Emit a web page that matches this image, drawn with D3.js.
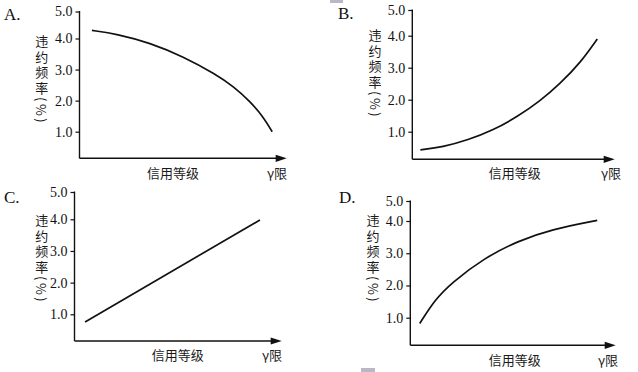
<!DOCTYPE html>
<html>
<head>
<meta charset="utf-8">
<script src="https://cdn.jsdelivr.net/npm/d3@7"></script>
<style>
  body { margin: 0; background: #fff; }
  svg { display: block; }
</style>
</head>
<body>
<div id="chart"></div>
<script>
// ===== data (grade: 0..10 along x, rate: %) =====
const yTickValues = [1, 2, 3, 4, 5];
const yTickLabels = ["1.0", "2.0", "3.0", "4.0", "5.0"];
const panelNames = ["A.", "B.", "C.", "D."];
const yTitle = "违约频率(%)";
const xTitle = "信用等级";
const xEnd = "γ限";

const gradeA = [0.6, 1.8, 3.4, 5.0, 6.6, 7.42, 8.24, 8.89, 9.3];
const rateA  = [4.30, 4.17, 3.86, 3.42, 2.84, 2.46, 1.97, 1.46, 1.0];

const gradeB = [0.4, 1.5, 2.75, 4.0, 5.2, 6.3, 7.3, 8.3, 9.14];
const rateB  = [0.43, 0.52, 0.74, 1.05, 1.47, 1.95, 2.5, 3.15, 3.9];

const gradeC = [0.51, 8.95];
const rateC  = [0.76, 3.98];

const gradeD = [0.46, 1.19, 2.0, 3.62, 5.24, 6.86, 9.1];
const rateD  = [0.82, 1.55, 2.08, 2.86, 3.38, 3.74, 4.03];

// ===== layout of each small plot (scanned figure, axes not quite regular) =====
const panels = [
  {name: panelNames[0], grade: gradeA, rate: rateA, axisX: 79.5, tip: 286.7, baseY: 158.3,
   y1: 131.7, y4: 38.5, y5: 11.5, letter: [4, 20], yTitleX: 41.7, yTitleTop: 35, xTitleX: 173, xTitleY: 172, endX: 277},
  {name: panelNames[1], grade: gradeB, rate: rateB, axisX: 412.3, tip: 614.7, baseY: 159.3,
   y1: 131.7, y4: 35.7, y5: 10, letter: [338, 19], yTitleX: 375, yTitleTop: 29, xTitleX: 514.7, xTitleY: 172.7, endX: 611},
  {name: panelNames[2], grade: gradeC, rate: rateC, axisX: 74.5, tip: 281.7, baseY: 341,
   y1: 314.3, y4: 219.3, y5: 192, letter: [4, 203], yTitleX: 41.7, yTitleTop: 214, xTitleX: 177.7, xTitleY: 354.3, endX: 272},
  {name: panelNames[3], grade: gradeD, rate: rateD, axisX: 410.3, tip: 615.7, baseY: 345.3,
   y1: 317.7, y4: 221, y5: 201, letter: [339, 203], yTitleX: 373, yTitleTop: 214, xTitleX: 514.7, xTitleY: 359.3, endX: 608}
];

const W = 638, H = 372;
const serif = "'Liberation Serif', 'DejaVu Serif', serif";
const cjk = "'Noto Sans CJK SC', sans-serif";

const svg = d3.select("#chart").append("svg")
  .attr("width", W).attr("height", H)
  .attr("viewBox", "0 0 " + W + " " + H);

svg.append("rect").attr("width", W).attr("height", H).attr("fill", "#fff");

// scan marks
svg.append("rect").attr("x", 330).attr("y", 0).attr("width", 13).attr("height", 3).attr("fill", "#b9b9c6");
svg.append("rect").attr("x", 361).attr("y", 368).attr("width", 14).attr("height", 4).attr("fill", "#b9b9c6");

for (const p of panels) {
  const g = svg.append("g");

  const x = d3.scaleLinear().domain([0, 10]).range([p.axisX, p.tip]);
  const y = d3.scaleLinear().domain([1, 4, 5]).range([p.y1, p.y4, p.y5]);

  // y axis line + ticks
  g.append("line")
    .attr("x1", p.axisX).attr("x2", p.axisX)
    .attr("y1", y(5) - 0.5).attr("y2", p.baseY)
    .attr("stroke", "#111").attr("stroke-width", 1.4);

  const yAxis = d3.axisLeft(y).tickValues(yTickValues)
    .tickFormat((d, i) => yTickLabels[i]).tickSize(4).tickPadding(3);
  const ga = g.append("g").attr("transform", "translate(" + p.axisX + ",0)").call(yAxis);
  ga.select(".domain").remove();
  ga.selectAll(".tick line").attr("stroke", "#111").attr("stroke-width", 1.2);
  ga.selectAll(".tick text")
    .attr("fill", "#111")
    .style("font-family", serif)
    .style("font-size", "14px");

  // x axis with arrow
  g.append("line")
    .attr("x1", p.axisX).attr("x2", x(10) - 6)
    .attr("y1", p.baseY).attr("y2", p.baseY)
    .attr("stroke", "#111").attr("stroke-width", 1.4);
  g.append("path")
    .attr("d", "M" + x(10) + "," + p.baseY + " L" + (x(10) - 11) + "," + (p.baseY - 3.6) +
               " L" + (x(10) - 11) + "," + (p.baseY + 3.6) + " Z")
    .attr("fill", "#111");

  // curve
  const pts = p.grade.map((d, i) => [d, p.rate[i]]);
  g.append("path")
    .datum(pts)
    .attr("fill", "none")
    .attr("stroke", "#111")
    .attr("stroke-width", 1.7)
    .attr("d", d3.line().x(d => x(d[0])).y(d => y(d[1])).curve(d3.curveBasis));

  // panel letter
  g.append("text")
    .attr("x", p.letter[0]).attr("y", p.letter[1])
    .style("font-family", serif).style("font-size", "17px")
    .attr("fill", "#111")
    .text(p.name);

  // y title, written top to bottom
  g.append("text")
    .attr("x", p.yTitleX).attr("y", p.yTitleTop)
    .style("writing-mode", "vertical-rl")
    .style("letter-spacing", "2.5px")
    .style("font-family", cjk).style("font-size", "13px")
    .attr("fill", "#1a1a1a")
    .text(yTitle);

  // x title + axis end label
  g.append("text")
    .attr("x", p.xTitleX).attr("y", p.xTitleY)
    .attr("text-anchor", "middle").attr("dominant-baseline", "central")
    .style("font-family", cjk).style("font-size", "13px")
    .attr("fill", "#1a1a1a")
    .text(xTitle);
  g.append("text")
    .attr("x", p.endX).attr("y", p.xTitleY)
    .attr("text-anchor", "middle").attr("dominant-baseline", "central")
    .style("font-family", cjk).style("font-size", "13px")
    .attr("fill", "#1a1a1a")
    .text(xEnd);
}
</script>
</body>
</html>
